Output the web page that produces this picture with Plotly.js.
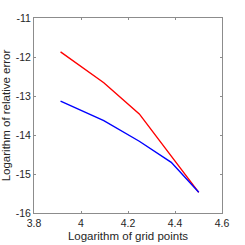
<!DOCTYPE html>
<html>
<head>
<meta charset="utf-8">
<script src="https://cdn.plot.ly/plotly-3.0.1.min.js"></script>
<style>html,body{margin:0;padding:0;background:#fff;}#chart{width:245px;height:245px;}</style>
</head>
<body>
<div id="chart"></div>
<script>
var gridLog = [3.913, 4.097, 4.248, 4.384, 4.501];
var redErr = [-11.87, -12.66, -13.46, -14.55, -15.47];
var blueErr = [-13.13, -13.63, -14.16, -14.70, -15.47];
var xTicks = [3.8, 4, 4.2, 4.4, 4.6];
var xTickText = ["3.8", "4", "4.2", "4.4", "4.6"];
var yTicks = [-16, -15, -14, -13, -12, -11];
var yTickText = ["-16", "-15", "-14", "-13", "-12", "-11"];

var traces = [
  {x: gridLog, y: redErr, mode: 'lines', line: {color: '#ff0000', width: 1.4}, showlegend: false},
  {x: gridLog, y: blueErr, mode: 'lines', line: {color: '#0000ff', width: 1.4}, showlegend: false}
];
var axisCommon = {
  showgrid: false, zeroline: false, showline: true, mirror: 'ticks',
  linecolor: '#8c8c8c', linewidth: 1, ticks: 'inside', ticklen: 2, tickcolor: '#8c8c8c',
  tickfont: {family: 'Liberation Sans, Arial, sans-serif', size: 10.5, color: '#262626'}
};
var layout = {
  width: 245, height: 245,
  margin: {l: 34, r: 23, t: 18, b: 32},
  paper_bgcolor: '#fff', plot_bgcolor: '#fff',
  xaxis: Object.assign({}, axisCommon, {
    range: [3.8, 4.6], tickvals: xTicks, ticktext: xTickText,
    title: {text: 'Logarithm of grid points', standoff: 4, font: {family: 'Liberation Sans, Arial, sans-serif', size: 11.5, color: '#262626'}}
  }),
  yaxis: Object.assign({}, axisCommon, {
    range: [-16, -11], tickvals: yTicks, ticktext: yTickText,
    title: {text: 'Logarithm of relative error', standoff: 3, font: {family: 'Liberation Sans, Arial, sans-serif', size: 11.5, color: '#262626'}}
  })
};
Plotly.newPlot('chart', traces, layout, {displayModeBar: false, staticPlot: true});
</script>
</body>
</html>
